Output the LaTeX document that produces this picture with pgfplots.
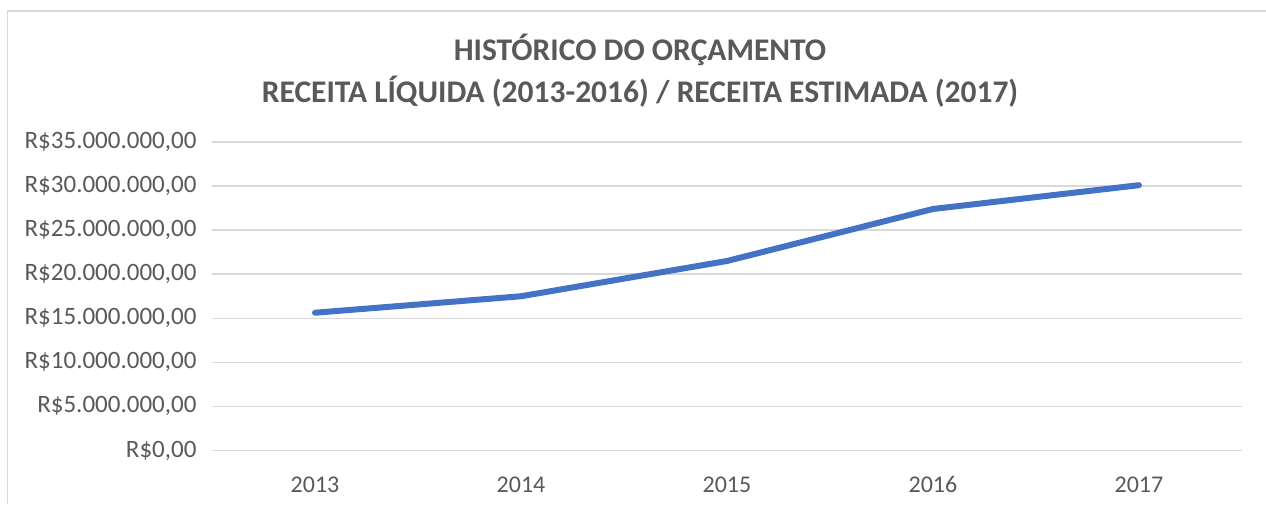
\documentclass[border=0pt]{standalone}
\usepackage{pgfplots}
\pgfplotsset{compat=1.18}
\usepackage{fontspec}
\setmainfont{Carlito}
\definecolor{txtc}{HTML}{595959}
\definecolor{gridc}{HTML}{D9D9D9}
\definecolor{linec}{HTML}{4472C4}
\begin{document}
\begin{tikzpicture}[x=1pt,y=1pt]
\path[use as bounding box] (0,0) rectangle (1266,504);
\draw[gridc,line width=1.5pt] (7.5,0) -- (7.5,493) -- (1266,493);
\begin{axis}[
  at={(212pt,53.5pt)}, anchor=south west,
  scale only axis, width=1030pt, height=308.5pt,
  xmin=-0.5, xmax=4.5, ymin=0, ymax=35000000,
  xtick={0,1,2,3,4}, xticklabels={2013,2014,2015,2016,2017},
  ytick={0,5000000,10000000,15000000,20000000,25000000,30000000,35000000},
  yticklabels={R\$0{,}00,R\$5.000.000{,}00,R\$10.000.000{,}00,R\$15.000.000{,}00,R\$20.000.000{,}00,R\$25.000.000{,}00,R\$30.000.000{,}00,R\$35.000.000{,}00},
  scaled y ticks=false,
  axis line style={draw=none},
  major tick length=0pt,
  xmajorgrids=false, ymajorgrids=true,
  grid style={draw=gridc,line width=1.5pt},
  ticklabel style={text=txtc},
  yticklabel style={font=\fontsize{25}{30}\selectfont, xshift=-12pt},
  xticklabel style={font=\fontsize{24}{28}\selectfont, anchor=base, text height=17pt, text depth=0pt, yshift=-42pt},
  clip=false,
]
\addplot[linec, line width=6pt, line cap=round, line join=round] coordinates {
 (0,15630000) (1,17500000) (2,21500000) (3,27400000) (4,30100000)};
\end{axis}
\node[text=txtc, font=\fontsize{31.5}{42}\selectfont\bfseries, align=center] at (640,433)
  {HISTÓRICO DO ORÇAMENTO\\RECEITA LÍQUIDA (2013-2016) / RECEITA ESTIMADA (2017)};
\end{tikzpicture}
\end{document}
